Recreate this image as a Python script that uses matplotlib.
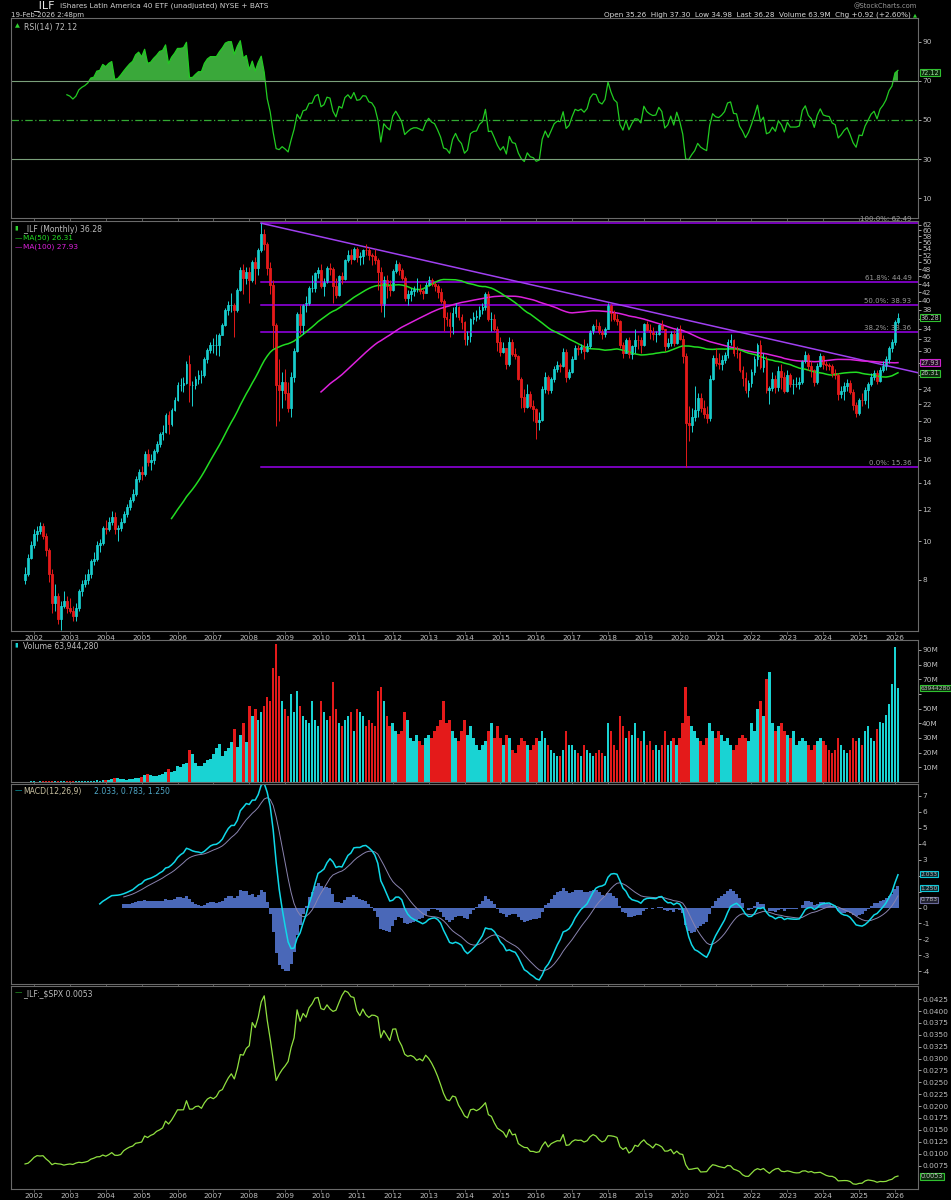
import numpy as np
import pandas as pd
import matplotlib
matplotlib.use("Agg")
import matplotlib.pyplot as plt

# monthly bars, Oct 2001 .. Feb 2026
dates = pd.date_range("2001-10-01", "2026-02-01", freq="MS")

close = [
    8.3, 9.1, 9.8,
    10.4, 10.6, 10.9, 10.3, 9.5, 8.3, 7.0, 7.3, 6.4, 6.9, 7.1, 6.8,
    6.7, 6.5, 6.8, 7.5, 7.8, 8.0, 8.3, 8.9, 9.0, 9.8, 9.9, 10.8,
    10.7, 11.2, 11.5, 10.7, 10.8, 11.2, 11.7, 12.2, 12.7, 13.1, 14.3, 14.9,
    14.7, 16.5, 15.8, 16.0, 16.8, 17.5, 18.5, 18.8, 20.7, 19.6, 21.3, 22.6,
    24.6, 24.6, 24.9, 27.7, 24.6, 24.6, 25.4, 26.1, 26.1, 28.5, 30.1, 31.0,
    31.0, 31.0, 32.9, 34.8, 37.9, 39.0, 39.0, 37.9, 42.6, 47.8, 45.5, 47.2,
    45.1, 50.0, 48.3, 53.6, 58.7, 55.3, 48.3, 43.8, 34.8, 24.6, 23.9, 25.0,
    23.5, 21.6, 25.8, 30.0, 37.0, 34.8, 39.0, 39.5, 43.0, 43.0, 46.8, 47.8,
    43.5, 44.5, 48.3, 48.0, 43.5, 41.4, 46.0, 45.4, 50.5, 52.0, 50.8, 53.9,
    51.5, 51.8, 53.6, 53.5, 52.0, 51.7, 50.5, 47.2, 38.9, 45.0, 43.5, 42.5,
    47.5, 49.5, 47.7, 45.7, 40.5, 41.5, 42.3, 42.7, 42.7, 42.3, 41.8, 43.8,
    45.0, 44.0, 43.6, 42.0, 40.0, 36.4, 36.0, 34.5, 37.2, 38.5, 36.5, 35.4,
    32.0, 32.6, 36.0, 36.5, 36.6, 38.0, 38.6, 41.5, 35.9, 36.0, 34.0, 31.6,
    29.8, 30.5, 27.8, 31.5, 29.4, 29.1, 25.5, 23.0, 21.7, 23.4, 21.8, 21.4,
    19.9, 20.1, 24.0, 25.8, 23.9, 25.4, 27.0, 27.6, 27.5, 29.8, 25.8, 26.5,
    28.6, 30.5, 30.2, 30.6, 30.0, 30.8, 33.5, 34.6, 34.5, 33.3, 33.0, 34.0,
    38.9, 37.3, 36.0, 35.5, 31.0, 29.6, 31.8, 29.4, 30.8, 31.9, 31.8, 31.0,
    34.9, 33.8, 33.3, 33.0, 33.1, 34.7, 34.0, 30.8, 31.4, 33.1, 31.3, 34.0,
    32.1, 29.0, 19.8, 19.5, 20.5, 21.3, 22.8, 21.5, 20.8, 20.3, 25.5, 28.8,
    28.0, 27.8, 28.4, 29.3, 31.6, 31.9, 29.6, 29.5, 26.8, 25.6, 23.9, 24.9,
    26.5, 28.5, 31.0, 27.3, 28.4, 23.9, 24.2, 25.4, 24.3, 26.7, 25.7, 23.8,
    26.0, 24.8, 24.8, 24.8, 25.0, 28.2, 29.3, 27.5, 26.8, 25.0, 27.5, 29.0,
    27.8, 27.6, 27.5, 26.3, 26.0, 23.3, 23.8, 24.5, 24.9, 23.6, 21.9, 20.9,
    22.6, 22.5, 23.9, 24.8, 25.8, 26.3, 25.2, 26.8, 27.5, 28.5, 30.4, 31.5,
    35.36, 36.28,
]
high = [
    8.6, 9.3, 10.0,
    10.7, 10.9, 11.2, 11.1, 10.5, 9.6, 8.5, 7.8, 7.4, 7.1, 7.5, 7.3,
    7.2, 6.9, 7.0, 7.6, 8.0, 8.3, 8.5, 9.0, 9.4, 10.0, 10.1, 10.9,
    11.3, 11.5, 11.9, 11.8, 11.0, 11.4, 11.9, 12.4, 12.9, 13.5, 14.6, 15.2,
    15.4, 16.8, 17.0, 16.5, 17.0, 17.8, 18.8, 19.5, 20.9, 21.2, 21.6, 22.9,
    25.0, 25.6, 25.8, 28.2, 29.3, 25.2, 25.9, 26.8, 26.8, 28.9, 30.5, 31.5,
    32.2, 33.0, 33.2, 35.2, 38.3, 40.0, 41.8, 39.5, 43.0, 48.5, 49.5, 48.5,
    48.5, 50.5, 51.5, 54.2, 62.49, 60.5, 56.0, 50.0, 45.0, 35.2, 28.5, 26.5,
    27.0, 25.0, 26.5, 30.5, 37.5, 39.0, 39.3, 41.0, 43.5, 46.5, 47.3, 48.5,
    49.5, 45.5, 48.8, 49.8, 48.5, 45.5, 46.5, 47.3, 50.8, 53.5, 54.0, 54.5,
    54.5, 53.0, 54.0, 55.5, 54.5, 52.5, 53.8, 51.0, 48.5, 46.0, 46.5, 45.0,
    48.0, 50.5, 50.0, 48.3, 46.0, 42.5, 43.0, 43.5, 45.5, 44.0, 42.8, 44.5,
    46.2, 45.5, 44.5, 44.0, 43.0, 40.3, 37.5, 37.5, 38.5, 39.5, 38.8, 37.0,
    35.5, 33.5, 36.2, 37.5, 37.8, 38.8, 39.5, 42.0, 42.3, 37.5, 37.0, 34.5,
    32.5, 31.5, 30.5, 32.5, 32.0, 30.5, 29.2, 25.8, 24.0, 24.8, 23.8, 22.5,
    21.5, 21.0, 24.5, 26.5, 26.0, 25.8, 27.5, 28.3, 28.0, 30.5, 30.3, 27.0,
    29.0, 31.0, 31.0, 31.2, 32.0, 31.3, 33.8, 35.0, 36.0, 35.3, 34.0, 34.3,
    39.5, 39.3, 38.0, 37.0, 35.8, 31.5, 32.3, 32.5, 31.0, 34.0, 32.8, 32.5,
    35.2, 35.5, 35.0, 34.3, 33.6, 35.0, 35.8, 34.0, 32.3, 33.5, 33.8, 34.3,
    34.8, 32.8, 29.5, 21.8, 21.5, 24.5, 23.5, 23.5, 22.5, 21.8, 26.0, 29.2,
    30.5, 29.5, 29.3, 29.8, 32.0, 33.0, 32.0, 30.8, 30.0, 27.5, 26.5, 25.3,
    27.0, 29.0, 31.3, 31.8, 29.5, 29.0, 24.5, 26.5, 26.0, 27.5, 27.8, 26.5,
    26.8, 26.3, 25.5, 25.8, 25.8, 28.4, 30.0, 29.5, 28.3, 27.0, 28.0, 29.5,
    29.3, 28.3, 28.0, 27.8, 27.0, 26.3, 24.5, 25.0, 25.5, 25.3, 24.0, 22.3,
    22.8, 23.5, 24.3, 25.0, 26.3, 26.8, 26.8, 27.3, 28.3, 29.0, 30.8, 32.0,
    35.8, 37.30,
]
low = [
    7.8, 8.2, 9.0,
    9.6, 10.0, 10.4, 10.1, 9.2, 7.9, 6.6, 6.7, 6.2, 6.0, 6.8, 6.6,
    6.6, 6.3, 6.3, 6.7, 7.3, 7.7, 7.8, 8.1, 8.7, 8.9, 9.4, 9.8,
    10.4, 10.6, 11.0, 10.4, 10.0, 10.6, 11.1, 11.5, 12.0, 12.5, 13.0, 14.1,
    14.2, 14.6, 15.4, 15.1, 15.6, 16.6, 17.2, 17.9, 18.7, 18.5, 19.4, 21.2,
    22.4, 23.8, 23.6, 24.7, 22.3, 21.8, 24.0, 24.8, 24.9, 25.8, 28.0, 29.5,
    29.5, 29.3, 29.0, 32.8, 34.6, 36.8, 37.5, 32.5, 37.5, 42.2, 41.5, 44.0,
    39.5, 44.5, 44.0, 46.5, 53.0, 53.5, 46.5, 41.5, 30.5, 19.4, 20.0, 21.5,
    22.5, 21.0, 20.5, 25.0, 29.8, 33.0, 33.0, 37.5, 39.0, 42.0, 42.0, 45.5,
    43.0, 41.0, 44.3, 46.5, 39.5, 40.5, 41.0, 44.0, 45.0, 50.0, 49.5, 50.5,
    50.0, 49.0, 49.5, 52.0, 50.5, 49.0, 49.5, 42.5, 37.5, 36.5, 40.5, 41.0,
    42.3, 47.0, 46.5, 45.0, 40.0, 39.0, 40.0, 41.0, 42.0, 41.5, 40.3, 41.8,
    43.5, 43.5, 42.3, 40.5, 39.5, 33.5, 34.5, 32.5, 33.0, 36.5, 35.8, 34.0,
    31.0, 31.0, 31.5, 35.0, 35.5, 36.0, 37.0, 38.0, 35.5, 33.5, 33.5, 30.0,
    29.0, 29.5, 27.0, 27.5, 29.0, 28.5, 25.3, 21.5, 21.0, 21.5, 21.5, 20.0,
    18.0, 19.0, 20.0, 23.5, 23.3, 23.5, 25.0, 26.5, 26.5, 27.3, 25.0, 25.5,
    26.3, 28.5, 29.3, 29.5, 28.5, 29.8, 30.5, 33.0, 34.0, 33.0, 32.0, 32.5,
    34.0, 35.5, 35.5, 34.8, 30.5, 28.8, 29.5, 28.8, 28.5, 29.5, 30.3, 29.5,
    30.8, 33.5, 32.0, 31.8, 31.5, 32.8, 33.8, 30.0, 30.5, 30.8, 30.8, 31.2,
    31.8, 28.0, 15.36, 17.8, 18.8, 20.0, 20.5, 21.0, 20.3, 19.8, 20.0, 25.3,
    27.5, 27.0, 26.8, 28.0, 28.8, 31.0, 29.0, 28.8, 26.5, 24.5, 23.5, 23.0,
    24.3, 26.0, 27.5, 27.0, 26.5, 23.5, 22.0, 23.8, 23.5, 23.8, 24.0, 23.5,
    23.6, 24.3, 23.3, 24.3, 24.0, 24.8, 28.0, 26.8, 25.8, 24.5, 24.8, 27.3,
    27.0, 26.8, 26.8, 25.8, 25.5, 22.5, 22.8, 22.5, 23.8, 23.3, 21.3, 20.5,
    20.7, 21.8, 22.0, 21.5, 24.5, 25.3, 24.8, 25.0, 26.5, 26.8, 28.0, 29.8,
    31.0, 34.98,
]
volume_m = [
    0.3, 0.3, 0.4,
    0.4, 0.3, 0.4, 0.4, 0.5, 0.6, 0.8, 0.5, 0.5, 0.6, 0.5, 0.4,
    0.5, 0.5, 0.6, 0.7, 0.6, 0.7, 0.8, 0.7, 0.9, 1.1, 1.0, 1.3,
    1.6, 1.7, 2.0, 2.5, 2.8, 2.0, 1.8, 1.7, 2.0, 2.3, 2.8, 3.0,
    3.5, 5.0, 5.5, 4.5, 4.0, 4.2, 4.5, 5.5, 6.5, 9.0, 7.0, 7.5,
    11, 10, 12, 13, 22, 19, 13, 11, 11, 13, 15, 16,
    19, 23, 26, 18, 21, 23, 27, 36, 24, 32, 40, 27,
    52, 45, 50, 42, 48, 52, 58, 55, 78, 94, 72, 55,
    50, 45, 60, 48, 62, 52, 45, 42, 40, 55, 42, 38,
    55, 48, 42, 45, 68, 50, 40, 38, 42, 45, 48, 35,
    50, 48, 45, 38, 42, 40, 38, 62, 65, 55, 45, 38,
    40, 35, 33, 35, 48, 42, 30, 28, 32, 28, 25, 30,
    32, 30, 35, 38, 42, 55, 40, 42, 35, 30, 28, 35,
    42, 32, 38, 30, 25, 22, 25, 28, 35, 40, 30, 38,
    30, 25, 32, 30, 22, 20, 25, 30, 28, 25, 22, 25,
    30, 28, 35, 30, 25, 22, 20, 18, 18, 22, 35, 25,
    25, 22, 20, 18, 25, 22, 20, 18, 20, 22, 20, 18,
    40, 35, 25, 22, 45, 38, 30, 35, 32, 40, 30, 28,
    35, 25, 28, 22, 25, 22, 25, 35, 25, 28, 30, 25,
    30, 40, 65, 45, 38, 35, 30, 28, 25, 30, 40, 35,
    30, 35, 32, 28, 30, 25, 22, 25, 30, 32, 30, 28,
    40, 35, 50, 55, 45, 70, 75, 40, 35, 38, 40, 35,
    32, 30, 35, 25, 28, 30, 28, 25, 22, 25, 28, 30,
    28, 25, 22, 20, 22, 30, 25, 22, 20, 22, 30, 28,
    30, 25, 35, 38, 30, 28, 36, 41, 40, 46, 53, 67,
    92, 63.944,
]
spx_close = [
    1059.8, 1139.5, 1148.1,
    1130.2, 1106.7, 1147.4, 1076.9, 1067.1, 989.8, 911.6, 916.1, 815.3, 885.8, 936.3, 879.8,
    855.7, 841.2, 848.2, 916.9, 963.6, 974.5, 990.3, 1008.0, 996.0, 1050.7, 1058.2, 1111.9,
    1131.1, 1144.9, 1126.2, 1107.3, 1120.7, 1140.8, 1101.7, 1104.2, 1114.6, 1130.2, 1173.8, 1211.9,
    1181.3, 1203.6, 1180.6, 1156.9, 1191.5, 1191.3, 1234.2, 1220.3, 1228.8, 1207.0, 1249.5, 1248.3,
    1280.1, 1280.7, 1294.9, 1310.6, 1270.1, 1270.2, 1276.7, 1303.8, 1335.9, 1377.9, 1400.6, 1418.3,
    1438.2, 1406.8, 1420.9, 1482.4, 1530.6, 1503.4, 1455.3, 1474.0, 1526.8, 1549.4, 1481.1, 1468.4,
    1378.6, 1330.6, 1322.7, 1385.6, 1400.4, 1280.0, 1267.4, 1282.8, 1166.4, 968.8, 896.2, 903.3,
    825.9, 735.1, 797.9, 872.8, 919.1, 919.3, 987.5, 1020.6, 1057.1, 1036.2, 1095.6, 1115.1,
    1073.9, 1104.5, 1169.4, 1186.7, 1089.4, 1030.7, 1101.6, 1049.3, 1141.2, 1183.3, 1180.6, 1257.6,
    1286.1, 1327.2, 1325.8, 1363.6, 1345.2, 1320.6, 1292.3, 1218.9, 1131.4, 1253.3, 1247.0, 1257.6,
    1312.4, 1365.7, 1408.5, 1397.9, 1310.3, 1362.2, 1379.3, 1406.6, 1440.7, 1412.2, 1416.2, 1426.2,
    1498.1, 1514.7, 1569.2, 1597.6, 1630.7, 1606.3, 1685.7, 1633.0, 1681.6, 1756.5, 1805.8, 1848.4,
    1782.6, 1859.5, 1872.3, 1884.0, 1923.6, 1960.2, 1930.7, 2003.4, 1972.3, 2018.1, 2067.6, 2058.9,
    1995.0, 2104.5, 2067.9, 2085.5, 2107.4, 2063.1, 2103.8, 1972.2, 1920.0, 2079.4, 2080.4, 2043.9,
    1940.2, 1932.2, 2059.7, 2065.3, 2097.0, 2098.9, 2173.6, 2171.0, 2168.3, 2126.2, 2198.8, 2238.8,
    2278.9, 2363.6, 2362.7, 2384.2, 2411.8, 2423.4, 2470.3, 2471.7, 2519.4, 2575.3, 2647.6, 2673.6,
    2823.8, 2713.8, 2640.9, 2648.1, 2705.3, 2718.4, 2816.3, 2901.5, 2914.0, 2711.7, 2760.2, 2506.9,
    2704.1, 2784.5, 2834.4, 2945.8, 2752.1, 2941.8, 2980.4, 2926.5, 2976.7, 3037.6, 3141.0, 3230.8,
    3225.5, 2954.2, 2584.6, 2912.4, 3044.3, 3100.3, 3271.1, 3500.3, 3363.0, 3270.0, 3621.6, 3756.1,
    3714.2, 3811.2, 3972.9, 4181.2, 4204.1, 4297.5, 4395.3, 4522.7, 4307.5, 4605.4, 4567.0, 4766.2,
    4515.6, 4373.9, 4530.4, 4131.9, 4132.2, 3785.4, 4130.3, 3955.0, 3585.6, 3872.0, 4080.1, 3839.5,
    4076.6, 3970.2, 4109.3, 4169.5, 4179.8, 4450.4, 4589.0, 4507.7, 4288.1, 4193.8, 4567.8, 4769.8,
    4845.7, 5096.3, 5254.4, 5035.7, 5277.5, 5460.5, 5522.3, 5648.4, 5762.5, 5705.5, 6032.4, 5881.6,
    6040.5, 5954.5, 5611.9, 5569.1, 5911.7, 6205.0, 6339.4, 6460.3, 6688.5, 6840.2, 6849.1, 6845.5,
    6940.0, 6860.0,
]
fib_levels = [62.49, 44.49, 38.93, 33.36, 15.36]
fib_names = ["100.0%", "61.8%", "50.0%", "38.2%", "0.0%"]

n = len(close)
idx = np.arange(n)
c = pd.Series(close)
o = c.shift(1).fillna(8.0)
ma50 = c.rolling(50).mean()
ma100 = c.rolling(100).mean()
d = c.diff()
up = d.clip(lower=0).ewm(alpha=1 / 14, adjust=False, min_periods=14).mean()
dn = (-d.clip(upper=0)).ewm(alpha=1 / 14, adjust=False, min_periods=14).mean()
rsi = 100 - 100 / (1 + up / dn)
macd = c.ewm(span=12, adjust=False).mean() - c.ewm(span=26, adjust=False).mean()
macd[:25] = np.nan
signal = macd.ewm(span=9, adjust=False).mean()
signal[:33] = np.nan
hist = macd - signal
ratio = c / pd.Series(spx_close)

BG = "black"
GRID = "#6a6a6a"
TXT = "#bdbdbd"
CYAN = "#19d3d3"
RED = "#e41a1a"
FS = 5.3

fig = plt.figure(figsize=(9.51, 12), dpi=100, facecolor=BG)
plt.rcParams["font.family"] = ["DejaVu Sans"]

X0, X1 = 11, 918
xlim = (-4.7, 298.7)
jan_idx = [i for i, t in enumerate(dates) if t.month == 1]
jan_lbl = [str(dates[i].year) for i in jan_idx]


def panel(top, bottom):
    ax = fig.add_axes([X0 / 951, 1 - bottom / 1200, (X1 - X0) / 951, (bottom - top) / 1200])
    ax.set_facecolor(BG)
    for s in ax.spines.values():
        s.set_color(GRID)
        s.set_linewidth(0.8)
    ax.yaxis.tick_right()
    ax.tick_params(axis="y", colors=TXT, labelsize=FS, length=2, pad=1, width=0.6)
    ax.tick_params(axis="x", colors=GRID, length=2, width=0.6, labelsize=FS, labelcolor=TXT, pad=1)
    ax.set_xlim(*xlim)
    ax.set_xticks(jan_idx)
    ax.set_xticklabels([])
    return ax


def tag(ax, y, text, ec, fc="black", tc=TXT, fs=4.7):
    ax.text(1.003, y, text, transform=ax.get_yaxis_transform(), fontsize=fs, color=tc,
            va="center", ha="left",
            bbox=dict(boxstyle="square,pad=0.08", fc=fc, ec=ec, lw=0.8), zorder=10, clip_on=False)


# header
fig.text(33 / 951, 1 - 6 / 1200, "_ILF", color="#e8e8e8", fontsize=8, va="center")
fig.text(60 / 951, 1 - 6 / 1200, "iShares Latin America 40 ETF (unadjusted) NYSE + BATS",
         color="#d0d0d0", fontsize=5.3, va="center")
fig.text(11 / 951, 1 - 15 / 1200, "19-Feb-2026 2:48pm", color="#d0d0d0", fontsize=5, va="center")
fig.text(917 / 951, 1 - 6 / 1200, "@StockCharts.com", color="#9a9a9a", fontsize=4.8, va="center", ha="right")
fig.text(911 / 951, 1 - 15 / 1200,
         "Open 35.26  High 37.30  Low 34.98  Last 36.28  Volume 63.9M  Chg +0.92 (+2.60%)",
         color="#d8d8d8", fontsize=5.2, va="center", ha="right")
fig.text(913 / 951, 1 - 15 / 1200, "\u25b2", color="#30d030", fontsize=3.8, va="center", ha="left")

# RSI panel
ax1 = panel(18, 218)
ax1.set_ylim(0, 102)
ax1.set_yticks([10, 30, 50, 70, 90])
ax1.plot(idx, rsi, color="#22cc22", lw=0.9)
ax1.fill_between(idx, 70, rsi, where=rsi > 70, color="#3aa83a", interpolate=True, lw=0)
ax1.axhline(70, color="#7aa07a", lw=0.8)
ax1.axhline(30, color="#7aa07a", lw=0.8)
ax1.axhline(50, color="#33aa33", lw=0.9, ls=(0, (6, 2, 1, 2)))
ax1.text(0.004, 0.975, "\u25b2", transform=ax1.transAxes, color="#30d030", fontsize=4.6, va="top")
ax1.text(0.014, 0.975, "RSI(14) 72.12", transform=ax1.transAxes, color=TXT, fontsize=5.6, va="top")
tag(ax1, 74, "72.12", "#30c030", fc="#0c2a0c", tc="#a0e0a0")

# price panel
ax2 = panel(221, 631)
ax2.set_yscale("log")
ax2.set_ylim(5.96, 63.3)
pt = list(range(8, 63, 2))
ax2.set_yticks(pt)
ax2.set_yticklabels(["" if v in (26, 28, 36) else str(v) for v in pt])
ax2.yaxis.set_minor_locator(matplotlib.ticker.NullLocator())
ax2.set_xticklabels(jan_lbl)
for lvl, nm in zip(fib_levels, fib_names):
    ax2.plot([79, xlim[1]], [lvl, lvl], color="#9900ee", lw=1.1)
    ax2.text(296.5, lvl * 1.006, f"{nm}: {lvl:.2f}", color="#9a9a9a", fontsize=5,
             ha="right", va="bottom")
ax2.plot([79, xlim[1]], [62.49, 26.4], color="#a040f0", lw=1.1)
ax2.plot(idx, ma100, color="#dd22dd", lw=1.1)
ax2.plot(idx, ma50, color="#22dd22", lw=1.1)
opn = o.values
for i in range(n):
    cu = close[i] >= opn[i]
    col = CYAN if cu else RED
    ax2.vlines(i, low[i], high[i], color=col, lw=0.7)
    lo_b, hi_b = min(opn[i], close[i]), max(opn[i], close[i])
    ax2.bar(i, hi_b - lo_b, bottom=lo_b, width=0.62, color=BG if cu else RED,
            edgecolor=col, lw=0.6)
ax2.text(0.004, 0.99, "\u25ae", transform=ax2.transAxes, color="#30d030", fontsize=4.6, va="top")
ax2.text(0.013, 0.99, "_ILF (Monthly) 36.28", transform=ax2.transAxes, color=TXT, fontsize=5.6, va="top")
ax2.text(0.004, 0.966, "\u2014", transform=ax2.transAxes, color="#22dd22", fontsize=5.3, va="top")
ax2.text(0.013, 0.966, "MA(50) 26.31", transform=ax2.transAxes, color="#22dd22", fontsize=5.3, va="top")
ax2.text(0.004, 0.944, "\u2014", transform=ax2.transAxes, color="#dd22dd", fontsize=5.3, va="top")
ax2.text(0.013, 0.944, "MA(100) 27.93", transform=ax2.transAxes, color="#dd22dd", fontsize=5.3, va="top")
tag(ax2, 36.28, "36.28", "#30c030")
tag(ax2, 27.93, "27.93", "#cc22cc", fc="#2a0a2a")
tag(ax2, 26.31, "26.31", "#30c030", fc="#0c2a0c")

# volume panel
ax3 = panel(640, 782)
ax3.set_ylim(0, 96.8)
ax3.set_yticks(range(10, 91, 10))
ax3.set_yticklabels(["" if v == 60 else f"{v}M" for v in range(10, 91, 10)])
vcol = [CYAN if close[i] >= opn[i] else RED for i in range(n)]
ax3.bar(idx, volume_m, width=0.85, color=vcol, lw=0)
ax3.text(0.004, 0.985, "\u25ae", transform=ax3.transAxes, color=CYAN, fontsize=4.6, va="top")
ax3.text(0.013, 0.985, "Volume 63,944,280", transform=ax3.transAxes, color=TXT, fontsize=5.6, va="top")
tag(ax3, volume_m[-1], "63944280", "#30c030", fc="#0c2a0c", fs=4.3)

# MACD panel
ax4 = panel(784, 984)
ax4.set_ylim(-4.8, 7.75)
ax4.set_yticks(range(-4, 8))
ax4.set_yticklabels(["" if v in (1, 2) else str(v) for v in range(-4, 8)])
ax4.bar(idx, hist, width=1.0, color="#4a68b8", lw=0)
ax4.plot(idx, signal, color="#8a84b0", lw=0.7)
ax4.plot(idx, macd, color="#10d8e8", lw=1.1)
ax4.text(0.004, 0.985, "\u2014", transform=ax4.transAxes, color="#10d8e8", fontsize=5.3, va="top")
ax4.text(0.013, 0.985, "MACD(12,26,9)", transform=ax4.transAxes, color="#c8c0a0", fontsize=5.6, va="top")
ax4.text(0.091, 0.985, "2.033, 0.783, 1.250", transform=ax4.transAxes, color="#50a8c8", fontsize=5.6, va="top")
tag(ax4, 2.1, "2.033", "#10c8d8", fc="#082830", fs=4.3)
tag(ax4, 1.2, "1.250", "#10c8d8", fc="#082830", fs=4.3)
tag(ax4, 0.5, "0.783", "#6a6a9a", fc="#202030", fs=4.3)

# ratio panel
ax5 = panel(986, 1189)
ax5.set_ylim(0.00256, 0.04527)
rt = [0.0075 + 0.0025 * k for k in range(15)]
ax5.set_yticks(rt)
ax5.set_yticklabels([f"{v:.4f}" for v in rt])
ax5.plot(idx, ratio, color="#90e040", lw=0.9)
ax5.set_xticklabels(jan_lbl)
ax5.text(0.004, 0.985, "\u2014", transform=ax5.transAxes, color="#30d030", fontsize=5.3, va="top")
ax5.text(0.013, 0.985, "_ILF:_$SPX 0.0053", transform=ax5.transAxes, color=TXT, fontsize=5.6, va="top")
tag(ax5, ratio.iloc[-1], "0.0053", "#30c030", fc="#0c2a0c")

fig.savefig("out.png", dpi=100, facecolor=BG)
